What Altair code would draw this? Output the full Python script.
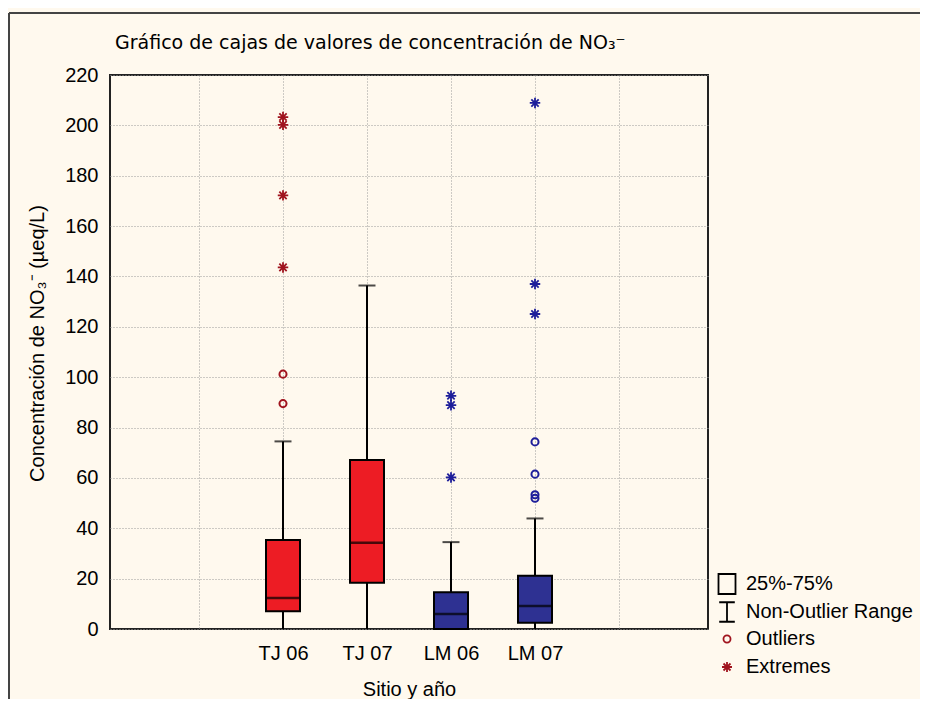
import altair as alt
import pandas as pd

# ---- data ----
sites = ["TJ 06", "TJ 07", "LM 06", "LM 07"]
q1 = [7.0, 18.4, 0.0, 2.5]
median = [12.3, 34.3, 6.0, 9.1]
q3 = [35.3, 67.1, 14.6, 21.1]
whisk_lo = [0.0, 0.0, 0.0, 0.0]
whisk_hi = [74.5, 136.4, 34.5, 43.9]
box_fill = ["#ED1C24", "#ED1C24", "#2E3192", "#2E3192"]
point_col = ["#A0141E", "#A0141E", "#1E1E9A", "#1E1E9A"]

out_site = ["TJ 06", "TJ 06", "LM 07", "LM 07", "LM 07", "LM 07"]
out_val = [101.2, 89.5, 74.3, 61.5, 53.3, 51.9]

ext_site = ["TJ 06", "TJ 06", "TJ 06", "TJ 06", "LM 06", "LM 06", "LM 06",
            "LM 07", "LM 07", "LM 07"]
ext_val = [203.3, 200.2, 172.2, 143.6, 92.6, 88.9, 60.2,
           208.9, 137.0, 125.1]

legend_items = ["25%-75%", "Non-Outlier Range", "Outliers", "Extremes"]

y_ticks = list(range(0, 221, 20))

# ---- tables ----
pos_of = {s: i + 2 for i, s in enumerate(sites)}
box_df = pd.DataFrame({
    "site": sites, "pos": [pos_of[s] for s in sites],
    "q1": q1, "median": median, "q3": q3, "lo": whisk_lo, "hi": whisk_hi,
    "fill": box_fill,
})
out_df = pd.DataFrame({
    "site": out_site, "pos": [pos_of[s] for s in out_site], "v": out_val,
    "col": [point_col[sites.index(s)] for s in out_site],
})
ext_df = pd.DataFrame({
    "site": ext_site, "pos": [pos_of[s] for s in ext_site], "v": ext_val,
    "col": [point_col[sites.index(s)] for s in ext_site],
})
legend_df = pd.DataFrame({"kind": legend_items})
frame_df = pd.DataFrame({"k": [0]})

FONT = "Liberation Sans"
FS = 20

label_expr = " : ".join(
    [f"datum.value == {pos_of[s]} ? '{s}'" for s in sites]) + " : ''"

xscale = alt.Scale(domain=[0, 7], nice=False, zero=False)
yscale = alt.Scale(domain=[0, 220], nice=False)

x_enc = alt.X("pos:Q", scale=xscale, axis=alt.Axis(
    values=[1, 2, 3, 4, 5, 6], labelExpr=label_expr, title="Sitio y año",
    ticks=False, tickSize=0, domain=False, grid=True, labelPadding=14,
    titlePadding=16))

y_axis = alt.Axis(values=y_ticks, title="Concentración de NO₃⁻ (µeq/L)",
                  ticks=False, tickSize=0, domain=False, grid=True,
                  labelPadding=12, titlePadding=17, titleY=268)

whisk = alt.Chart(box_df).mark_rule(color="black", strokeWidth=2).encode(
    x=x_enc,
    y=alt.Y("lo:Q", scale=yscale, axis=y_axis),
    y2="hi:Q",
)
caps = alt.Chart(box_df).mark_tick(
    color="black", orient="horizontal", size=17, thickness=2
).encode(x="pos:Q", y="hi:Q")

boxes = alt.Chart(box_df).mark_bar(
    size=34, stroke="black", strokeWidth=2
).encode(
    x="pos:Q", y="q1:Q", y2="q3:Q",
    fill=alt.Fill("fill:N", scale=None),
)
meds = alt.Chart(box_df).mark_tick(
    color="black", orient="horizontal", size=33, thickness=2.5
).encode(x="pos:Q", y="median:Q")

outs = alt.Chart(out_df).mark_point(
    shape="circle", size=50, filled=False, strokeWidth=2, opacity=1
).encode(x="pos:Q", y="v:Q", stroke=alt.Stroke("col:N", scale=None))

STAR = "M-1,0H1M0,-1V1M-0.7,-0.7L0.7,0.7M-0.7,0.7L0.7,-0.7"
exts = alt.Chart(ext_df).mark_point(
    shape=STAR, size=110, filled=False, strokeWidth=1.8, opacity=1
).encode(x="pos:Q", y="v:Q", stroke=alt.Stroke("col:N", scale=None))

BOX = "M-0.85,-1H0.85V1H-0.85Z"
IBEAM = "M-0.8,-1H0.8M0,-1V1M-0.8,1H0.8"
leg = alt.Legend(title=None, orient="none", legendX=606, legendY=498,
                 labelFont=FONT, labelFontSize=FS, labelColor="black",
                 labelLimit=400,
                 symbolOpacity=1, symbolStrokeWidth=1.8, rowPadding=0,
                 gridAlign="all",
                 labelOffset=8, symbolFillColor="transparent")
legend_layer = alt.Chart(legend_df).mark_point(
    opacity=0, filled=False
).encode(
    color=alt.Color("kind:N", scale=alt.Scale(
        domain=legend_items,
        range=["black", "black", "#A0141E", "#A0141E"]), legend=leg),
    shape=alt.Shape("kind:N", scale=alt.Scale(
        domain=legend_items, range=[BOX, IBEAM, "circle", STAR]), legend=leg),
    size=alt.Size("kind:N", scale=alt.Scale(
        type="ordinal", domain=legend_items, range=[400, 380, 50, 100]),
        legend=leg),
)

frame_left = alt.Chart(frame_df).mark_rule(
    color="#444444", strokeWidth=2
).encode(x=alt.value(-101), y=alt.value(-62), y2=alt.value(700))
frame_top = alt.Chart(frame_df).mark_rule(
    color="#444444", strokeWidth=2
).encode(x=alt.value(-101), x2=alt.value(900), y=alt.value(-62))

chart = alt.layer(
    whisk, caps, boxes, meds, outs, exts, legend_layer, frame_left, frame_top
).properties(
    width=598, height=554,
    autosize=alt.AutoSizeParams(type="none"),
    padding={"left": 102, "top": 67, "right": 212, "bottom": 70},
    title=alt.TitleParams(
        "Gráfico de cajas de valores de concentración de NO₃⁻",
        anchor="start", frame="group", font="DejaVu Sans", fontSize=19,
        fontWeight="normal", color="black", offset=-41, dx=5),
).configure(
    background="#FFF9EE",
).configure_view(
    fill="white", stroke="#222222", strokeWidth=2,
).configure_axis(
    labelFont=FONT, labelFontSize=FS, labelColor="black",
    titleFont=FONT, titleFontSize=FS, titleFontWeight="normal",
    titleColor="black",
    gridColor="#9A9A9A", gridDash=[1, 2], gridWidth=1,
)

chart.save("out.html", embed_options={"renderer": "svg", "actions": False})
